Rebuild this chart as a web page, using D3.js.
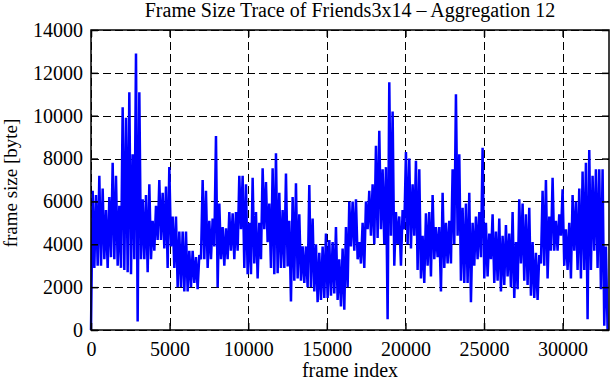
<!DOCTYPE html>
<html>
<head>
<meta charset="utf-8">
<script src="https://cdn.jsdelivr.net/npm/d3@7"></script>
<style>
  body { margin: 0; background: #fff; }
  text { font-family: 'Liberation Serif', 'DejaVu Serif', serif; fill: #000; }
</style>
</head>
<body>
<div id="chart"></div>
<script>
const title = 'Frame Size Trace of Friends3x14 – Aggregation 12'
const xLabel = 'frame index'
const yLabel = 'frame size [byte]'
const xTicks = [0, 5000, 10000, 15000, 20000, 25000, 30000]
const yTicks = [0, 2000, 4000, 6000, 8000, 10000, 12000, 14000]
const xMax = 32950
const yMax = 14000

// one value every 106 frames (low / high envelope)
const frameStep = 106
const frameSize = [
  0, 6500, 2900, 6300, 3000, 7200, 3000, 6600, 3300, 5600, 2900, 6200,
  3400, 7800, 3300, 7200, 3000, 5800, 2900, 10400, 2800, 9900, 2700, 11100,
  2600, 8200, 3300, 12900, 400, 11100, 3300, 6100, 3300, 6300, 2700, 6800,
  3300, 5100, 3700, 5800, 4200, 7000, 4200, 6400, 3800, 6700, 2900, 7600,
  3900, 5300, 2900, 5300, 2000, 4600, 2000, 4600, 1800, 4600, 1800, 3700,
  2000, 3700, 2200, 3400, 1900, 3500, 3300, 7000, 3300, 6500, 2900, 5100,
  3300, 5200, 3900, 9050, 2000, 5900, 3300, 4800, 3000, 4750, 3300, 5500,
  3700, 5450, 3300, 5500, 3700, 7200, 4700, 7200, 2900, 6800, 2600, 5000,
  2600, 7100, 3100, 5500, 2400, 5000, 3300, 7550, 4700, 6900, 4100, 5900,
  2900, 7550, 2600, 8250, 2650, 6400, 2900, 5600, 2900, 7300, 2960, 5100,
  1330, 6200, 2300, 6850, 2400, 5400, 2300, 3900, 2200, 3900, 2000, 6770,
  2000, 5200, 1800, 4000, 1300, 3600, 1400, 3900, 1500, 4500, 1500, 4200,
  1600, 4100, 1700, 4800, 1400, 3300, 1100, 3800, 950, 4800, 2000, 6000,
  3900, 6000, 3700, 6100, 3300, 4100, 3100, 5000, 2900, 6000, 4700, 6500,
  4400, 6800, 4000, 8600, 4300, 9300, 4700, 7500, 4000, 7600, 500, 11560,
  4400, 10200, 3000, 5500, 4000, 5300, 3000, 5600, 4700, 8300, 4000, 8000,
  3800, 6800, 4400, 7900, 2800, 7500, 2400, 4400, 2200, 5450, 3000, 5500,
  2500, 6300, 3300, 4800, 3400, 4800, 1800, 6400, 2900, 5000, 3100, 5100,
  3100, 7500, 4000, 11000, 4400, 8200, 2300, 5700, 2200, 5900, 2200, 6400,
  1300, 5000, 3000, 5300, 3300, 5500, 3400, 8500, 2400, 5000, 2500, 4500,
  3300, 5400, 2200, 4600, 2300, 5200, 1800, 4400, 2100, 4900, 2500, 4500,
  2000, 5500, 1500, 4100, 1900, 6100, 3100, 5900, 2300, 5400, 2100, 5700,
  1600, 4100, 1500, 3600, 1400, 3500, 3100, 6500, 3000, 7000, 2400, 5300,
  3700, 7100, 3700, 5100, 3700, 5400, 4400, 6570, 3000, 4700, 2800, 5000,
  2400, 6300, 3700, 6000, 2800, 6600, 2400, 7400, 2800, 7800, 500, 8400,
  2800, 7200, 3700, 7500, 2900, 7500, 1900, 7500, 200, 3900, 0
]

const margin = { top: 30, left: 91, right: 2, bottom: 50 }
const width = 611 - margin.left - margin.right
const height = 380 - margin.top - margin.bottom
const fontFamily = "'Liberation Serif', 'DejaVu Serif', serif"

const svg = d3
  .select('#chart')
  .append('svg')
  .attr('width', width + margin.left + margin.right)
  .attr('height', height + margin.top + margin.bottom)

const g = svg
  .append('g')
  .attr('transform', 'translate(' + margin.left + ',' + margin.top + ')')

const x = d3.scaleLinear().domain([0, xMax]).range([0, width])
const y = d3.scaleLinear().domain([0, yMax]).range([height, 0])

// dashed grid
g.append('g')
  .selectAll('line')
  .data(xTicks)
  .enter()
  .append('line')
  .attr('x1', d => Math.round(x(d)) + 0.5)
  .attr('x2', d => Math.round(x(d)) + 0.5)
  .attr('y1', 0)
  .attr('y2', height)
  .attr('stroke', '#000')
  .attr('stroke-dasharray', '8,4')
g.append('g')
  .selectAll('line')
  .data(yTicks)
  .enter()
  .append('line')
  .attr('y1', d => Math.round(y(d)) + 0.5)
  .attr('y2', d => Math.round(y(d)) + 0.5)
  .attr('x1', 0)
  .attr('x2', width)
  .attr('stroke', '#000')
  .attr('stroke-dasharray', '8,4')

// the trace
const line = d3
  .line()
  .x((d, i) => x(i * frameStep))
  .y(d => y(d))

g.append('path')
  .datum(frameSize)
  .attr('d', line)
  .attr('fill', 'none')
  .attr('stroke', '#0000ff')
  .attr('stroke-width', 2.5)
  .attr('stroke-linejoin', 'miter')

// axes, ticks point inwards
const fmt = d3.format('d')
g.append('g')
  .attr('transform', 'translate(0,' + height + ')')
  .call(d3.axisBottom(x).tickValues(xTicks).tickFormat(fmt).tickSize(-7).tickSizeOuter(0).tickPadding(12))
g.append('g')
  .call(d3.axisTop(x).tickValues(xTicks).tickSize(-7).tickSizeOuter(0).tickFormat(''))
g.append('g')
  .call(d3.axisLeft(y).tickValues(yTicks).tickFormat(fmt).tickSize(-7).tickSizeOuter(0).tickPadding(8))
g.append('g')
  .attr('transform', 'translate(' + width + ',0)')
  .call(d3.axisRight(y).tickValues(yTicks).tickSize(-7).tickSizeOuter(0).tickFormat(''))

g.selectAll('.domain').remove()
g.selectAll('.tick line').attr('stroke', '#000').attr('stroke-width', 1.5)
g.selectAll('.tick text')
  .style('font-family', fontFamily)
  .style('font-size', '20px')

g.append('rect')
  .attr('width', width)
  .attr('height', height)
  .attr('fill', 'none')
  .attr('stroke', '#000')
  .attr('stroke-width', 1.5)

// labels
svg
  .append('text')
  .text(title)
  .attr('x', margin.left + width / 2)
  .attr('y', 17)
  .attr('text-anchor', 'middle')
  .style('font-family', fontFamily)
  .style('font-size', '20px')

svg
  .append('text')
  .text(xLabel)
  .attr('x', margin.left + width / 2)
  .attr('y', 377)
  .attr('text-anchor', 'middle')
  .style('font-family', fontFamily)
  .style('font-size', '20px')

svg
  .append('text')
  .text(yLabel)
  .attr('transform', 'translate(17,' + (margin.top + height / 2 + 3) + ') rotate(-90)')
  .attr('text-anchor', 'middle')
  .style('font-family', fontFamily)
  .style('font-size', '19px')
</script>
</body>
</html>
